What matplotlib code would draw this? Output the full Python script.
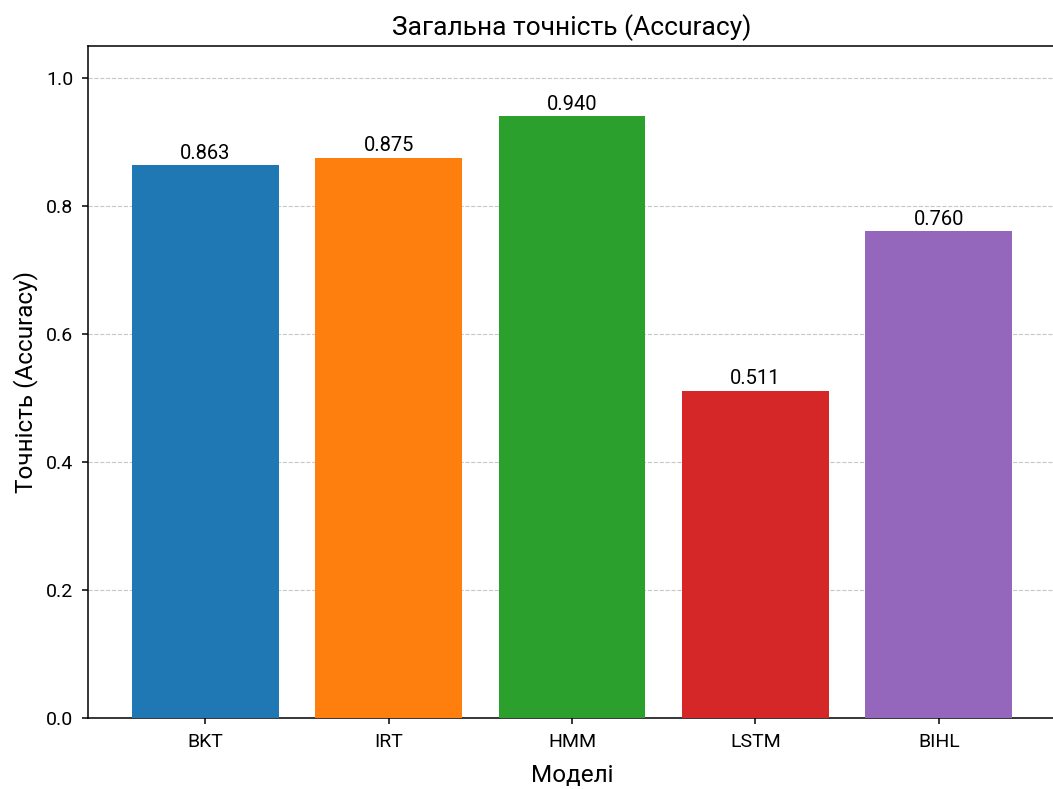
import matplotlib
matplotlib.use("Agg")
import matplotlib.pyplot as plt

models = ["BKT", "IRT", "HMM", "LSTM", "BIHL"]
accuracy = [0.863, 0.875, 0.940, 0.511, 0.760]
bar_colors = ["#1f77b4", "#ff7f0e", "#2ca02c", "#d62728", "#9467bd"]

plt.rcParams['font.family'] = ['Roboto', 'DejaVu Sans']

fig, ax = plt.subplots(figsize=(10.53, 7.89), dpi=100)
# the right side of the axes is cut off by the image edge in the original
fig.subplots_adjust(left=0.0836, right=1.003, top=0.942, bottom=0.090)

bars = ax.bar(models, accuracy, color=bar_colors, width=0.8, zorder=3)
for b, v in zip(bars, accuracy):
    ax.text(b.get_x() + b.get_width() / 2, v + 0.004, f"{v:.3f}",
            ha="center", va="bottom", fontsize=14.5)

ax.set_ylim(0, 1.05)
ax.set_title("Загальна точність (Accuracy)", fontsize=19, pad=8)
ax.set_xlabel("Моделі", fontsize=17.5, labelpad=10)
ax.set_ylabel("Точність (Accuracy)", fontsize=17.5, labelpad=6)
ax.tick_params(labelsize=14, length=4.5, width=1.1, pad=6)
ax.yaxis.grid(True, linestyle="--", alpha=0.7, zorder=0)
for s in ax.spines.values():
    s.set_linewidth(1.1)
ax.spines["right"].set_visible(False)

fig.savefig("out.png")
